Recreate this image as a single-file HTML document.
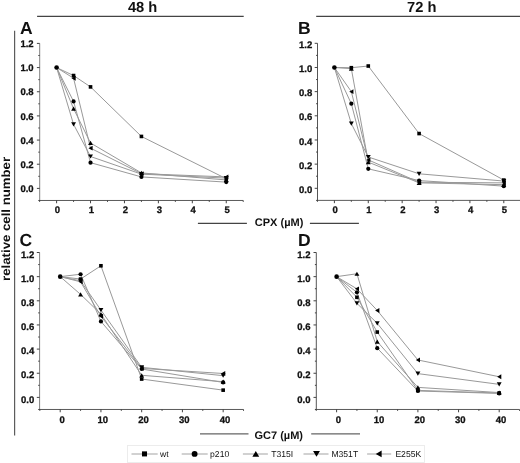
<!DOCTYPE html>
<html><head><meta charset="utf-8"><style>html,body{margin:0;padding:0;background:#fff;width:520px;height:463px;overflow:hidden}svg{display:block;will-change:transform}</style></head><body>
<svg width="520" height="463" viewBox="0 0 520 463" text-rendering="geometricPrecision">
<style>text{font-family:"Liberation Sans",sans-serif;fill:#111}.tl{font-size:9.5px;font-weight:bold;stroke:#111;stroke-width:0.3px}.pl{font-size:17.5px;font-weight:bold}.hd{font-size:14.7px;font-weight:bold}.xl{font-size:11px;font-weight:bold}.lg{font-size:8.6px}</style>
<rect width="520" height="463" fill="#fff"/>
<path d="M37.1 16.45H243.7M316.2 16.45H520" stroke="#444" stroke-width="1.2"/>
<text x="142.6" y="11.8" text-anchor="middle" class="hd">48 h</text>
<text x="421.8" y="11.8" text-anchor="middle" class="hd">72 h</text>
<path d="M14.6 30.8V435.6" stroke="#5c5c5c" stroke-width="1.2"/>
<text transform="translate(10.1 218.9) rotate(-90) scale(1.015 0.92)" text-anchor="middle" style="font-size:13px;font-weight:bold">relative cell number</text>
<text x="20.1" y="33.6" class="pl">A</text>
<text x="298.1" y="33.6" class="pl">B</text>
<text x="19.6" y="245.8" class="pl">C</text>
<text x="298.1" y="245.6" class="pl">D</text>
<path d="M39.70 43.40V200.48" fill="none" stroke="#808080" stroke-width="1"/>
<path d="M39.20 200.48H243.22" fill="none" stroke="#5a5a5a" stroke-width="1"/>
<path d="M38.30 200.48H39.70M36.90 188.40H39.70M38.30 176.32H39.70M36.90 164.23H39.70M38.30 152.15H39.70M36.90 140.07H39.70M38.30 127.99H39.70M36.90 115.90H39.70M38.30 103.82H39.70M36.90 91.74H39.70M38.30 79.65H39.70M36.90 67.57H39.70M38.30 55.49H39.70M36.90 43.40H39.70M39.64 200.48V201.88M56.60 200.48V203.28M73.56 200.48V201.88M90.53 200.48V203.28M107.50 200.48V201.88M124.46 200.48V203.28M141.43 200.48V201.88M158.39 200.48V203.28M175.35 200.48V201.88M192.32 200.48V203.28M209.28 200.48V201.88M226.25 200.48V203.28M243.22 200.48V201.88" fill="none" stroke="#3a3a3a" stroke-width="0.95"/>
<text transform="translate(33.60 192.00)" text-anchor="end" class="tl">0.0</text>
<text transform="translate(33.60 167.83)" text-anchor="end" class="tl">0.2</text>
<text transform="translate(33.60 143.67)" text-anchor="end" class="tl">0.4</text>
<text transform="translate(33.60 119.50)" text-anchor="end" class="tl">0.6</text>
<text transform="translate(33.60 95.34)" text-anchor="end" class="tl">0.8</text>
<text transform="translate(33.60 71.17)" text-anchor="end" class="tl">1.0</text>
<text transform="translate(33.60 47.00)" text-anchor="end" class="tl">1.2</text>
<text transform="translate(57.50 213.40)" text-anchor="middle" class="tl">0</text>
<text transform="translate(91.43 213.40)" text-anchor="middle" class="tl">1</text>
<text transform="translate(125.36 213.40)" text-anchor="middle" class="tl">2</text>
<text transform="translate(159.29 213.40)" text-anchor="middle" class="tl">3</text>
<text transform="translate(193.22 213.40)" text-anchor="middle" class="tl">4</text>
<text transform="translate(227.15 213.40)" text-anchor="middle" class="tl">5</text>
<polyline points="56.60,67.57 73.56,75.54 90.53,86.90 141.43,136.44 226.25,178.73" fill="none" stroke="#999" stroke-width="1"/>
<polyline points="56.60,67.57 73.56,101.40 90.53,162.66 141.43,176.92 226.25,182.12" fill="none" stroke="#999" stroke-width="1"/>
<polyline points="56.60,67.57 73.56,108.65 90.53,142.97 141.43,172.93 226.25,179.94" fill="none" stroke="#999" stroke-width="1"/>
<polyline points="56.60,67.57 73.56,124.36 90.53,156.50 141.43,174.14 226.25,178.13" fill="none" stroke="#999" stroke-width="1"/>
<polyline points="56.60,67.57 73.56,78.20 90.53,148.16 141.43,173.66 226.25,176.92" fill="none" stroke="#999" stroke-width="1"/>
<rect x="71.77" y="73.74" width="3.60" height="3.60"/>
<rect x="88.73" y="85.10" width="3.60" height="3.60"/>
<rect x="139.62" y="134.64" width="3.60" height="3.60"/>
<rect x="224.45" y="176.93" width="3.60" height="3.60"/>
<path d="M73.56 106.55L76.02 110.75L71.11 110.75Z"/>
<path d="M90.53 140.87L92.98 145.07L88.08 145.07Z"/>
<path d="M141.43 170.83L143.88 175.03L138.98 175.03Z"/>
<path d="M226.25 177.84L228.70 182.04L223.80 182.04Z"/>
<path d="M73.56 126.46L76.02 122.26L71.11 122.26Z"/>
<path d="M90.53 158.60L92.98 154.40L88.08 154.40Z"/>
<path d="M141.43 176.24L143.88 172.04L138.98 172.04Z"/>
<path d="M226.25 180.23L228.70 176.03L223.80 176.03Z"/>
<path d="M71.47 78.20L75.66 75.75L75.66 80.65Z"/>
<path d="M88.43 148.16L92.63 145.71L92.63 150.61Z"/>
<path d="M139.33 173.66L143.53 171.21L143.53 176.11Z"/>
<path d="M224.15 176.92L228.35 174.47L228.35 179.37Z"/>
<circle cx="56.60" cy="67.57" r="2.3"/>
<circle cx="73.56" cy="101.40" r="2.10"/>
<circle cx="90.53" cy="162.66" r="2.10"/>
<circle cx="141.43" cy="176.92" r="2.10"/>
<circle cx="226.25" cy="182.12" r="2.10"/>
<path d="M317.50 43.30V200.38" fill="none" stroke="#555" stroke-width="1"/>
<path d="M317.00 200.38H520.74" fill="none" stroke="#5a5a5a" stroke-width="1"/>
<path d="M316.10 200.38H317.50M314.70 188.30H317.50M316.10 176.22H317.50M314.70 164.13H317.50M316.10 152.05H317.50M314.70 139.97H317.50M316.10 127.89H317.50M314.70 115.80H317.50M316.10 103.72H317.50M314.70 91.64H317.50M316.10 79.55H317.50M314.70 67.47H317.50M316.10 55.39H317.50M314.70 43.30H317.50M317.46 200.38V201.78M334.40 200.38V203.18M351.34 200.38V201.78M368.28 200.38V203.18M385.22 200.38V201.78M402.16 200.38V203.18M419.10 200.38V201.78M436.04 200.38V203.18M452.98 200.38V201.78M469.92 200.38V203.18M486.86 200.38V201.78M503.80 200.38V203.18M520.74 200.38V201.78" fill="none" stroke="#3a3a3a" stroke-width="0.95"/>
<text transform="translate(312.30 192.90)" text-anchor="end" class="tl">0.0</text>
<text transform="translate(312.30 168.73)" text-anchor="end" class="tl">0.2</text>
<text transform="translate(312.30 144.57)" text-anchor="end" class="tl">0.4</text>
<text transform="translate(312.30 120.40)" text-anchor="end" class="tl">0.6</text>
<text transform="translate(312.30 96.24)" text-anchor="end" class="tl">0.8</text>
<text transform="translate(312.30 72.07)" text-anchor="end" class="tl">1.0</text>
<text transform="translate(312.30 47.90)" text-anchor="end" class="tl">1.2</text>
<text transform="translate(335.10 213.30)" text-anchor="middle" class="tl">0</text>
<text transform="translate(368.98 213.30)" text-anchor="middle" class="tl">1</text>
<text transform="translate(402.86 213.30)" text-anchor="middle" class="tl">2</text>
<text transform="translate(436.74 213.30)" text-anchor="middle" class="tl">3</text>
<text transform="translate(470.62 213.30)" text-anchor="middle" class="tl">4</text>
<text transform="translate(504.50 213.30)" text-anchor="middle" class="tl">5</text>
<polyline points="334.40,67.47 351.34,67.71 368.28,66.02 419.10,133.56 503.80,180.08" fill="none" stroke="#999" stroke-width="1"/>
<polyline points="334.40,67.47 351.34,103.72 368.28,168.85 419.10,180.57 503.80,186.13" fill="none" stroke="#999" stroke-width="1"/>
<polyline points="334.40,67.47 351.34,68.68 368.28,162.08 419.10,182.86 503.80,184.68" fill="none" stroke="#999" stroke-width="1"/>
<polyline points="334.40,67.47 351.34,123.66 368.28,157.01 419.10,173.80 503.80,181.05" fill="none" stroke="#999" stroke-width="1"/>
<polyline points="334.40,67.47 351.34,91.64 368.28,159.90 419.10,182.26 503.80,182.86" fill="none" stroke="#999" stroke-width="1"/>
<rect x="349.54" y="65.91" width="3.60" height="3.60"/>
<rect x="366.48" y="64.22" width="3.60" height="3.60"/>
<rect x="417.30" y="131.76" width="3.60" height="3.60"/>
<rect x="502.00" y="178.28" width="3.60" height="3.60"/>
<path d="M351.34 66.58L353.79 70.78L348.89 70.78Z"/>
<path d="M368.28 159.98L370.73 164.18L365.83 164.18Z"/>
<path d="M419.10 180.76L421.55 184.96L416.65 184.96Z"/>
<path d="M503.80 182.58L506.25 186.78L501.35 186.78Z"/>
<path d="M351.34 125.76L353.79 121.56L348.89 121.56Z"/>
<path d="M368.28 159.11L370.73 154.91L365.83 154.91Z"/>
<path d="M419.10 175.90L421.55 171.70L416.65 171.70Z"/>
<path d="M503.80 183.15L506.25 178.95L501.35 178.95Z"/>
<path d="M349.24 91.64L353.44 89.19L353.44 94.09Z"/>
<path d="M366.18 159.90L370.38 157.45L370.38 162.35Z"/>
<path d="M417.00 182.26L421.20 179.81L421.20 184.71Z"/>
<path d="M501.70 182.86L505.90 180.41L505.90 185.31Z"/>
<circle cx="334.40" cy="67.47" r="2.3"/>
<circle cx="351.34" cy="103.72" r="2.10"/>
<circle cx="368.28" cy="168.85" r="2.10"/>
<circle cx="419.10" cy="180.57" r="2.10"/>
<circle cx="503.80" cy="186.13" r="2.10"/>
<path d="M39.60 252.50V409.47" fill="none" stroke="#808080" stroke-width="1"/>
<path d="M39.10 409.47H243.53" fill="none" stroke="#5a5a5a" stroke-width="1"/>
<path d="M38.20 409.47H39.60M36.80 397.40H39.60M38.20 385.32H39.60M36.80 373.25H39.60M38.20 361.17H39.60M36.80 349.10H39.60M38.20 337.02H39.60M36.80 324.95H39.60M38.20 312.88H39.60M36.80 300.80H39.60M38.20 288.72H39.60M36.80 276.65H39.60M38.20 264.57H39.60M36.80 252.50H39.60M39.83 409.47V410.87M60.20 409.47V412.27M80.57 409.47V410.87M100.94 409.47V412.27M121.31 409.47V410.87M141.68 409.47V412.27M162.05 409.47V410.87M182.42 409.47V412.27M202.79 409.47V410.87M223.16 409.47V412.27M243.53 409.47V410.87" fill="none" stroke="#3a3a3a" stroke-width="0.95"/>
<text transform="translate(34.20 402.60)" text-anchor="end" class="tl">0.0</text>
<text transform="translate(34.20 378.45)" text-anchor="end" class="tl">0.2</text>
<text transform="translate(34.20 354.30)" text-anchor="end" class="tl">0.4</text>
<text transform="translate(34.20 330.15)" text-anchor="end" class="tl">0.6</text>
<text transform="translate(34.20 306.00)" text-anchor="end" class="tl">0.8</text>
<text transform="translate(34.20 281.85)" text-anchor="end" class="tl">1.0</text>
<text transform="translate(34.20 257.70)" text-anchor="end" class="tl">1.2</text>
<text transform="translate(62.10 423.00)" text-anchor="middle" class="tl">0</text>
<text transform="translate(102.84 423.00)" text-anchor="middle" class="tl">10</text>
<text transform="translate(143.58 423.00)" text-anchor="middle" class="tl">20</text>
<text transform="translate(184.32 423.00)" text-anchor="middle" class="tl">30</text>
<text transform="translate(225.06 423.00)" text-anchor="middle" class="tl">40</text>
<polyline points="60.20,276.65 80.57,279.06 100.94,265.78 141.68,379.05 223.16,390.15" fill="none" stroke="#999" stroke-width="1"/>
<polyline points="60.20,276.65 80.57,274.23 100.94,321.45 141.68,369.02 223.16,382.43" fill="none" stroke="#999" stroke-width="1"/>
<polyline points="60.20,276.65 80.57,294.40 100.94,314.08 141.68,375.30 223.16,381.70" fill="none" stroke="#999" stroke-width="1"/>
<polyline points="60.20,276.65 80.57,280.88 100.94,310.10 141.68,367.33 223.16,375.66" fill="none" stroke="#999" stroke-width="1"/>
<polyline points="60.20,276.65 80.57,281.84 100.94,316.26 141.68,368.42 223.16,373.49" fill="none" stroke="#999" stroke-width="1"/>
<rect x="78.77" y="277.26" width="3.60" height="3.60"/>
<rect x="99.14" y="263.98" width="3.60" height="3.60"/>
<rect x="139.88" y="377.25" width="3.60" height="3.60"/>
<rect x="221.36" y="388.35" width="3.60" height="3.60"/>
<path d="M80.57 292.30L83.02 296.50L78.12 296.50Z"/>
<path d="M100.94 311.98L103.39 316.18L98.49 316.18Z"/>
<path d="M141.68 373.20L144.13 377.40L139.23 377.40Z"/>
<path d="M223.16 379.60L225.61 383.80L220.71 383.80Z"/>
<path d="M80.57 282.98L83.02 278.78L78.12 278.78Z"/>
<path d="M100.94 312.20L103.39 308.00L98.49 308.00Z"/>
<path d="M141.68 369.43L144.13 365.23L139.23 365.23Z"/>
<path d="M223.16 377.76L225.61 373.56L220.71 373.56Z"/>
<path d="M78.47 281.84L82.67 279.39L82.67 284.29Z"/>
<path d="M98.84 316.26L103.04 313.81L103.04 318.71Z"/>
<path d="M139.58 368.42L143.78 365.97L143.78 370.87Z"/>
<path d="M221.06 373.49L225.26 371.04L225.26 375.94Z"/>
<circle cx="60.20" cy="276.65" r="2.3"/>
<circle cx="80.57" cy="274.23" r="2.10"/>
<circle cx="100.94" cy="321.45" r="2.10"/>
<circle cx="141.68" cy="369.02" r="2.10"/>
<circle cx="223.16" cy="382.43" r="2.10"/>
<path d="M316.30 252.50V409.47" fill="none" stroke="#555" stroke-width="1"/>
<path d="M315.80 409.47H519.53" fill="none" stroke="#5a5a5a" stroke-width="1"/>
<path d="M314.90 409.47H316.30M313.50 397.40H316.30M314.90 385.32H316.30M313.50 373.25H316.30M314.90 361.17H316.30M313.50 349.10H316.30M314.90 337.02H316.30M313.50 324.95H316.30M314.90 312.88H316.30M313.50 300.80H316.30M314.90 288.72H316.30M313.50 276.65H316.30M314.90 264.57H316.30M313.50 252.50H316.30M316.28 409.47V410.87M336.60 409.47V412.27M356.93 409.47V410.87M377.25 409.47V412.27M397.58 409.47V410.87M417.90 409.47V412.27M438.23 409.47V410.87M458.55 409.47V412.27M478.88 409.47V410.87M499.20 409.47V412.27M519.53 409.47V410.87" fill="none" stroke="#3a3a3a" stroke-width="0.95"/>
<text transform="translate(310.50 402.60)" text-anchor="end" class="tl">0.0</text>
<text transform="translate(310.50 378.45)" text-anchor="end" class="tl">0.2</text>
<text transform="translate(310.50 354.30)" text-anchor="end" class="tl">0.4</text>
<text transform="translate(310.50 330.15)" text-anchor="end" class="tl">0.6</text>
<text transform="translate(310.50 306.00)" text-anchor="end" class="tl">0.8</text>
<text transform="translate(310.50 281.85)" text-anchor="end" class="tl">1.0</text>
<text transform="translate(310.50 257.70)" text-anchor="end" class="tl">1.2</text>
<text transform="translate(338.40 422.90)" text-anchor="middle" class="tl">0</text>
<text transform="translate(379.05 422.90)" text-anchor="middle" class="tl">10</text>
<text transform="translate(419.70 422.90)" text-anchor="middle" class="tl">20</text>
<text transform="translate(460.35 422.90)" text-anchor="middle" class="tl">30</text>
<text transform="translate(501.00 422.90)" text-anchor="middle" class="tl">40</text>
<polyline points="336.60,276.65 356.93,297.30 377.25,332.07 417.90,390.40 499.20,393.05" fill="none" stroke="#999" stroke-width="1"/>
<polyline points="336.60,276.65 356.93,292.35 377.25,348.13 417.90,391.00 499.20,393.42" fill="none" stroke="#999" stroke-width="1"/>
<polyline points="336.60,276.65 356.93,273.75 377.25,341.61 417.90,387.38 499.20,392.57" fill="none" stroke="#999" stroke-width="1"/>
<polyline points="336.60,276.65 356.93,303.34 377.25,323.38 417.90,373.61 499.20,384.36" fill="none" stroke="#999" stroke-width="1"/>
<polyline points="336.60,276.65 356.93,288.85 377.25,310.46 417.90,359.97 499.20,376.75" fill="none" stroke="#999" stroke-width="1"/>
<rect x="355.12" y="295.50" width="3.60" height="3.60"/>
<rect x="375.45" y="330.27" width="3.60" height="3.60"/>
<rect x="416.10" y="388.60" width="3.60" height="3.60"/>
<rect x="497.40" y="391.25" width="3.60" height="3.60"/>
<path d="M356.93 271.65L359.38 275.85L354.48 275.85Z"/>
<path d="M377.25 339.51L379.70 343.71L374.80 343.71Z"/>
<path d="M417.90 385.28L420.35 389.48L415.45 389.48Z"/>
<path d="M499.20 390.47L501.65 394.67L496.75 394.67Z"/>
<path d="M356.93 305.44L359.38 301.24L354.48 301.24Z"/>
<path d="M377.25 325.48L379.70 321.28L374.80 321.28Z"/>
<path d="M417.90 375.71L420.35 371.51L415.45 371.51Z"/>
<path d="M499.20 386.46L501.65 382.26L496.75 382.26Z"/>
<path d="M354.82 288.85L359.03 286.40L359.03 291.30Z"/>
<path d="M375.15 310.46L379.35 308.01L379.35 312.91Z"/>
<path d="M415.80 359.97L420.00 357.52L420.00 362.42Z"/>
<path d="M497.10 376.75L501.30 374.30L501.30 379.20Z"/>
<circle cx="336.60" cy="276.65" r="2.3"/>
<circle cx="356.93" cy="292.35" r="2.10"/>
<circle cx="377.25" cy="348.13" r="2.10"/>
<circle cx="417.90" cy="391.00" r="2.10"/>
<circle cx="499.20" cy="393.42" r="2.10"/>
<path d="M197.9 223.45H246.9M309.9 223.45H358.9" stroke="#444" stroke-width="1.2"/>
<path d="M200 433.85H248.5M311.2 433.85H360" stroke="#666" stroke-width="1.2"/>
<text x="279.1" y="225.9" text-anchor="middle" class="xl">CPX (µM)</text>
<text x="278.8" y="438.5" text-anchor="middle" class="xl">GC7 (µM)</text>
<rect x="127.5" y="445.5" width="297" height="17" fill="none" stroke="#ebebeb" stroke-width="0.9"/>
<path d="M131.5 454H157.7" stroke="#999" stroke-width="0.9"/>
<rect x="141.98" y="451.38" width="5.04" height="5.04"/>
<text x="160.1" y="457.2" class="lg">wt</text>
<path d="M181.7 454H207.7" stroke="#999" stroke-width="0.9"/>
<circle cx="194.60" cy="453.90" r="2.94"/>
<text x="210.1" y="457.2" class="lg">p210</text>
<path d="M242.9 454H267.9" stroke="#999" stroke-width="0.9"/>
<path d="M255.80 450.96L259.23 456.84L252.37 456.84Z"/>
<text x="271.2" y="457.2" class="lg">T315I</text>
<path d="M303.5 454H328.5" stroke="#999" stroke-width="0.9"/>
<path d="M316.50 456.84L319.93 450.96L313.07 450.96Z"/>
<text x="331.4" y="457.2" class="lg">M351T</text>
<path d="M367.1 454H391.2" stroke="#999" stroke-width="0.9"/>
<path d="M375.76 453.90L381.64 450.47L381.64 457.33Z"/>
<text x="395.4" y="457.2" class="lg">E255K</text>
</svg>
</body></html>
